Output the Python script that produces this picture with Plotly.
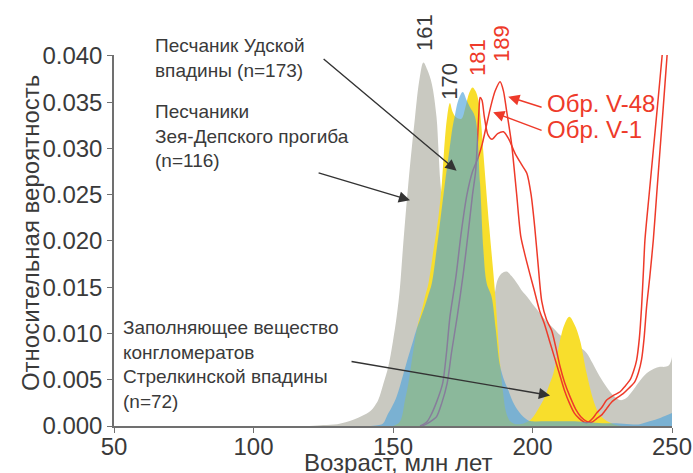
import plotly.graph_objects as go

# ---------------- data ----------------
# Zeya-Depsky trough sandstones (gray)
gray_age = [120, 125, 130, 133, 136, 139, 141.8, 143.5, 144.7, 146.5, 148.3, 150, 151.3, 152.5, 153.5,
            155.5, 157.9, 159.5, 160.9, 162.3, 163.9, 165.6, 166.3, 167, 168.5, 170, 173, 177, 181, 184,
            186, 187.5, 189, 190.7, 192.5, 194.5, 196.5, 198, 200, 202.7, 205, 207.4, 210, 212.5, 214.6,
            217, 219.4, 221.5, 224, 226.6, 229, 231.4, 233.5, 236.1, 238.5, 240.9, 243.5, 245.7, 247.5,
            249, 249.9, 250]
gray_val = [0.0, 0.0001, 0.0002, 0.0004, 0.0007, 0.0011, 0.0016, 0.0022, 0.0028, 0.0045, 0.0064, 0.0092,
            0.0118, 0.015, 0.019, 0.0262, 0.0334, 0.0375, 0.0393, 0.0385, 0.037, 0.0334, 0.0298, 0.0262,
            0.022, 0.017, 0.012, 0.010, 0.010, 0.0115, 0.0135, 0.0158, 0.0165, 0.0167, 0.0162, 0.0154,
            0.0145, 0.014, 0.0132, 0.0122, 0.0113, 0.0106, 0.0098, 0.0093, 0.0089, 0.0085, 0.0079, 0.0068,
            0.0054, 0.0042, 0.0033, 0.0028, 0.003, 0.0039, 0.0049, 0.0057, 0.0062, 0.0064, 0.0064, 0.0066,
            0.0073, 0.0075]

# Strelka depression conglomerate matrix (yellow)
yellow_age = [150, 152, 153, 154.3, 155.5, 157.3, 159, 160.3, 161.5, 162.7, 164.5, 166.3, 167.5, 168.3,
              169.4, 170.4, 171.3, 172.5, 174.5, 176, 177.3, 178.5, 179.6, 180.6, 181.5, 182.6, 184.5,
              186.6, 188.3, 189.5, 190.5, 192, 194, 197, 199, 200.3, 202, 203.9, 205.7, 207.5, 209.9,
              211.5, 213.2, 215, 217, 219.4, 221.8, 223.5, 225.4, 229, 232]
yellow_val = [0.0, 0.0003, 0.0008, 0.0028, 0.0046, 0.0082, 0.0111, 0.0125, 0.014, 0.0154, 0.019, 0.0226,
              0.0262, 0.0298, 0.0334, 0.0349, 0.034, 0.0334, 0.0332, 0.0345, 0.036, 0.0366, 0.0362,
              0.0352, 0.033, 0.0287, 0.0215, 0.0143, 0.007, 0.0035, 0.0015, 0.0005, 0.0002, 0.0003,
              0.0006, 0.001, 0.0018, 0.0028, 0.0042, 0.0057, 0.0093, 0.011, 0.0118, 0.011, 0.0093,
              0.0057, 0.0028, 0.0015, 0.0008, 0.0002, 0.0]

# Uda depression sandstone (blue, translucent)
blue_age = [142, 145, 146.5, 148, 149.5, 151.3, 153.7, 155.5, 157.3, 158.5, 160.9, 162.5, 163.9, 165.6,
            167.1, 168.6, 170.2, 171.3, 172.2, 173.4, 175, 176.4, 177.5, 179.4, 181.2, 182.4, 183.6,
            185.3, 186.8, 188.3, 190, 191.3, 193, 195, 196.7, 198.5, 200, 205, 210, 215, 220, 225,
            230, 235, 238.5, 242, 246, 250]
blue_val = [0.0, 0.0001, 0.0003, 0.0012, 0.002, 0.0032, 0.0056, 0.0075, 0.0093, 0.0105, 0.0125, 0.014,
            0.0154, 0.019, 0.0226, 0.0262, 0.0298, 0.0322, 0.0336, 0.0352, 0.0361, 0.0352, 0.0345,
            0.0334, 0.0262, 0.019, 0.0154, 0.014, 0.0105, 0.0066, 0.0048, 0.0039, 0.0026, 0.0016,
            0.001, 0.0006, 0.0005, 0.0005, 0.0005, 0.0005, 0.0004, 0.0003, 0.0003, 0.0002, 0.0002,
            0.0005, 0.0009, 0.0014]

# Sample V-1 (red)
v1_age = [160.5, 163, 165.6, 167.5, 169.4, 171, 173, 175.2, 177, 178.5, 179.6, 180.3, 180.8, 181.2,
          181.9, 182.7, 184, 185.5, 187.5, 189.6, 191.5, 193.7, 196, 198, 199.5, 200.8, 202, 203.3,
          205, 206.9, 208.5, 209.9, 211.5, 213.4, 215.5, 217.3, 219.4, 221.2, 223, 224.8, 226.6,
          228.4, 230.5, 232.5, 234.6, 236.7, 238, 239.1, 240, 240.9, 242, 243.3, 244.5, 245.7, 246.9,
          248.1, 249.3]
v1_val = [0.0, 0.0004, 0.001, 0.0025, 0.0046, 0.008, 0.0118, 0.0165, 0.021, 0.025, 0.0275, 0.031,
          0.034, 0.0355, 0.0352, 0.0335, 0.0315, 0.031, 0.0316, 0.0318, 0.031, 0.0295, 0.0283, 0.0273,
          0.025, 0.0215, 0.0175, 0.0135, 0.0115, 0.0103, 0.0083, 0.0064, 0.0047, 0.0032, 0.0018,
          0.001, 0.0005, 0.0004, 0.0008, 0.0012, 0.0019, 0.0026, 0.0031, 0.0035, 0.0041, 0.0048,
          0.0058, 0.0072, 0.0095, 0.0129, 0.016, 0.0201, 0.025, 0.0298, 0.0346, 0.0395, 0.0445]

# Sample V-48 (red)
v48_age = [159.7, 162, 163.3, 165.5, 167.8, 169.2, 170.4, 172.5, 174.5, 176.5, 178.5, 180.5, 182,
           183.5, 185, 186.6, 188.4, 189.6, 190.7, 192.5, 194.3, 195.8, 197.3, 199, 200.6, 202.5,
           204.2, 206, 207.8, 209.6, 211.4, 213.2, 215, 216.8, 218.6, 220, 221.5, 223, 224.8, 226.6,
           229, 231.4, 233.2, 235, 236.3, 237.3, 238.3, 239.1, 239.8, 240.3, 241.8, 243.3, 244.8,
           246.3, 247.5]
v48_val = [0.0, 0.0004, 0.001, 0.0025, 0.0046, 0.008, 0.0118, 0.016, 0.021, 0.025, 0.0275, 0.029,
           0.0305, 0.0325, 0.0345, 0.0362, 0.0372, 0.0362, 0.0341, 0.0305, 0.0251, 0.0205, 0.0185,
           0.0165, 0.0147, 0.0125, 0.0111, 0.0093, 0.0075, 0.0057, 0.0039, 0.0025, 0.0014, 0.0008,
           0.0004, 0.0004, 0.0008, 0.0014, 0.002, 0.0028, 0.0033, 0.0037, 0.0043, 0.005, 0.006,
           0.0071, 0.0095, 0.0129, 0.017, 0.0201, 0.025, 0.0298, 0.0346, 0.0395, 0.0435]

x_ticks = [50, 100, 150, 200, 250]
y_ticks = [0.0, 0.005, 0.010, 0.015, 0.020, 0.025, 0.030, 0.035, 0.040]
y_tick_text = ["0.000", "0.005", "0.010", "0.015", "0.020", "0.025", "0.030", "0.035", "0.040"]

# ---------------- figure ----------------
FONT = "Liberation Sans, Arial, sans-serif"
TXT = "#3a3a3a"
RED = "#ee3a2a"
Y_TOP = 0.0401

fig = go.Figure()
fig.add_trace(go.Scatter(x=gray_age, y=gray_val, mode="lines", line=dict(width=0, shape="spline"),
                         fill="tozeroy", fillcolor="#c9c9c1", hoverinfo="skip"))
fig.add_trace(go.Scatter(x=yellow_age, y=yellow_val, mode="lines", line=dict(width=0, shape="spline"),
                         fill="tozeroy", fillcolor="#f8de2c", hoverinfo="skip"))
fig.add_trace(go.Scatter(x=v1_age, y=v1_val, mode="lines",
                         line=dict(width=1.5, color=RED, shape="spline", smoothing=0.7)))
fig.add_trace(go.Scatter(x=v48_age, y=v48_val, mode="lines",
                         line=dict(width=1.5, color=RED, shape="spline", smoothing=0.7)))
fig.add_trace(go.Scatter(x=blue_age, y=blue_val, mode="lines", line=dict(width=0, shape="spline"),
                         fill="tozeroy", fillcolor="rgba(76,162,219,0.64)", hoverinfo="skip"))

ann = []
def text(x, y, t, size=19, color=TXT, angle=0, xanchor="left", yref="y"):
    ann.append(dict(x=x, y=y, xref="x", yref=yref, text=t, showarrow=False, align="left",
                    xanchor=xanchor, yanchor="middle", textangle=angle,
                    font=dict(family=FONT, size=size, color=color)))

def arrow(x0, y0, x1, y1, color="#333333"):
    ann.append(dict(x=x1, y=y1, ax=x0, ay=y0, xref="x", yref="y", axref="x", ayref="y", text="",
                    showarrow=True, arrowhead=2, arrowsize=1.6, arrowwidth=1.4, arrowcolor=color,
                    standoff=0, startstandoff=0))

text(64.0, 0.0398, "Песчаник Удской<br>впадины (n=173)")
text(64.0, 0.0313, "Песчаники<br>Зея-Депского прогиба<br>(n=116)")
text(52.5, 0.0067, "Заполняющее вещество<br>конгломератов<br>Стрелкинской впадины<br>(n=72)")
text(204.5, 0.0349, "Обр. V-48", size=24, color=RED)
text(204.5, 0.0321, "Обр. V-1", size=24, color=RED)
# peak labels (placed in paper units so the ones above the axis top are still drawn)
text(161.5, 0.0425 / Y_TOP, "161", size=22, angle=-90, xanchor="center", yref="paper")
text(170.4, 0.0373 / Y_TOP, "170", size=22, angle=-90, xanchor="center", yref="paper")
text(180.5, 0.0398 / Y_TOP, "181", size=22, color=RED, angle=-90, xanchor="center", yref="paper")
text(189.1, 0.0413 / Y_TOP, "189", size=22, color=RED, angle=-90, xanchor="center", yref="paper")

arrow(124.6, 0.0398, 172.8, 0.0276)
arrow(122.8, 0.0274, 156.1, 0.0244)
arrow(134.6, 0.0070, 206.3, 0.0033)
arrow(203.8, 0.0344, 191.3, 0.0356, RED)
arrow(203.8, 0.0319, 185.9, 0.0339, RED)

ann.append(dict(x=-0.1505, y=0.52, xref="paper", yref="paper", text="Относительная вероятность",
                showarrow=False, textangle=-90, xanchor="center", yanchor="middle",
                font=dict(family=FONT, size=24, color=TXT)))
ann.append(dict(x=0.509, y=-0.098, xref="paper", yref="paper", text="Возраст, млн лет",
                showarrow=False, xanchor="center", yanchor="middle",
                font=dict(family=FONT, size=24, color=TXT)))

fig.update_layout(
    width=693, height=473,
    margin=dict(l=114, r=21, t=55, b=47, autoexpand=False),
    paper_bgcolor="white", plot_bgcolor="white",
    showlegend=False,
    annotations=ann,
    font=dict(family=FONT, color=TXT),
)
fig.update_xaxes(range=[50, 250], tickvals=x_ticks, ticktext=[str(v) for v in x_ticks], automargin=False,
                 showgrid=False, zeroline=False, showline=True, linecolor="#707070", linewidth=1.5,
                 ticks="outside", ticklen=5, tickcolor="#707070", ticklabelstandoff=-7,
                 tickfont=dict(size=24, color=TXT, family=FONT))
fig.update_yaxes(range=[0, Y_TOP], tickvals=y_ticks, ticktext=y_tick_text, automargin=False,
                 showgrid=False, zeroline=False, showline=True, linecolor="#707070", linewidth=1.5,
                 ticks="outside", ticklen=5, tickcolor="#707070", tickfont=dict(size=24, color=TXT, family=FONT))

fig.write_html("out.html")
